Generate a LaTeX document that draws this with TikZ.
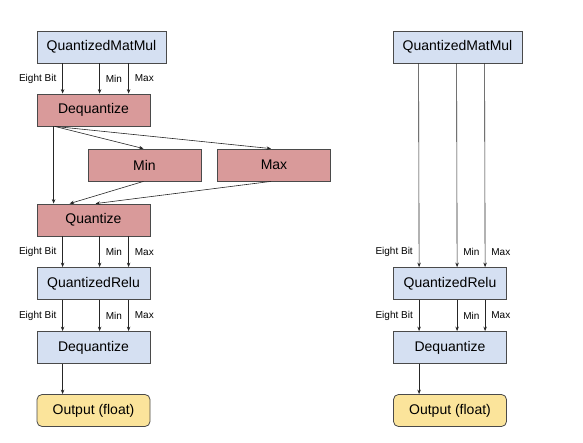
\documentclass[tikz,border=0pt]{standalone}
\usepackage{fontspec}
\setmainfont{Liberation Sans}
\usetikzlibrary{arrows.meta}
\definecolor{opblue}{HTML}{D5E0F2}
\definecolor{opred}{HTML}{D99A9A}
\definecolor{opyellow}{HTML}{FBE49B}
\definecolor{boxline}{HTML}{4A4A4A}
\begin{document}
\begin{tikzpicture}[
    x=1pt, y=-1pt,
    box/.style={draw=boxline, line width=0.8pt, minimum width=113pt, minimum height=32pt,
      inner sep=0pt, font=\fontsize{14}{16}\selectfont},
    qbox/.style={box, fill=opblue},
    fbox/.style={box, fill=opred},
    outbox/.style={box, fill=opyellow, rounded corners=5pt},
    arr/.style={draw=black!85, line width=0.6pt, -{Stealth[length=4.5pt,width=3.5pt]}},
    lbl/.style={font=\fontsize{10}{12}\selectfont, inner xsep=6pt, inner ysep=0pt}
  ]
  \useasboundingbox (0,0) rectangle (583,443);

  % left: with requantization
  \node[qbox, minimum width=129pt] (mmA) at (101.5,47) {QuantizedMatMul};
  \node[fbox] (dqA) at (93.5,110) {Dequantize};
  \node[fbox] (minA) at (144.5,165) {Min};
  \node[fbox] (maxA) at (274,165) {Max};
  \node[fbox] (qzA) at (93.5,220) {Quantize};
  \node[qbox] (reluA) at (93.5,283.5) {QuantizedRelu};
  \node[qbox] (dqB) at (93.5,347.5) {Dequantize};
  \node[outbox] (outA) at (93.5,410.5) {Output (float)};

  \draw[arr] ([xshift=26pt]mmA.south west) -- node[lbl,midway,left] {Eight Bit} ([xshift=26pt]dqA.north west);
  \draw[arr] ([xshift=63pt]mmA.south west) -- node[lbl,midway,right] {Min} ([xshift=63pt]dqA.north west);
  \draw[arr] ([xshift=92pt]mmA.south west) -- node[lbl,midway,right] {Max} ([xshift=92pt]dqA.north west);

  \draw[arr] ([xshift=17pt]dqA.south west) -- ([xshift=17pt]qzA.north west);
  \draw[arr] ([xshift=18pt]dqA.south west) -- ([xshift=-1pt]minA.north);
  \draw[arr] ([xshift=18pt]dqA.south west) -- ([xshift=-3pt]maxA.north);
  \draw[arr] ([xshift=-1pt]minA.south) -- ([xshift=33pt]qzA.north west);
  \draw[arr] ([xshift=-3pt]maxA.south) -- ([xshift=59pt]qzA.north west);

  \draw[arr] ([xshift=26pt]qzA.south west) -- node[lbl,midway,left] {Eight Bit} ([xshift=26pt]reluA.north west);
  \draw[arr] ([xshift=63pt]qzA.south west) -- node[lbl,midway,right] {Min} ([xshift=63pt]reluA.north west);
  \draw[arr] ([xshift=92pt]qzA.south west) -- node[lbl,midway,right] {Max} ([xshift=92pt]reluA.north west);

  \draw[arr] ([xshift=26pt]reluA.south west) -- node[lbl,midway,left] {Eight Bit} ([xshift=26pt]dqB.north west);
  \draw[arr] ([xshift=63pt]reluA.south west) -- node[lbl,midway,right] {Min} ([xshift=63pt]dqB.north west);
  \draw[arr] ([xshift=92pt]reluA.south west) -- node[lbl,midway,right] {Max} ([xshift=92pt]dqB.north west);

  \draw[arr] ([xshift=26pt]dqB.south west) -- ([xshift=26pt]outA.north west);

  % right: passed straight through
  \node[qbox, minimum width=129pt] (mmB) at (457.5,47) {QuantizedMatMul};
  \node[qbox] (reluB) at (450,283.5) {QuantizedRelu};
  \node[qbox] (dqC) at (450,347.5) {Dequantize};
  \node[outbox] (outB) at (450,410.5) {Output (float)};

  \draw[arr] ([xshift=26pt]mmB.south west) -- node[lbl,pos=0.925,left] {Eight Bit} ([xshift=26pt]reluB.north west);
  \draw[arr] ([xshift=64pt]mmB.south west) -- node[lbl,pos=0.925,right] {Min} ([xshift=64pt]reluB.north west);
  \draw[arr] ([xshift=92pt]mmB.south west) -- node[lbl,pos=0.925,right] {Max} ([xshift=92pt]reluB.north west);

  \draw[arr] ([xshift=26pt]reluB.south west) -- node[lbl,midway,left] {Eight Bit} ([xshift=26pt]dqC.north west);
  \draw[arr] ([xshift=64pt]reluB.south west) -- node[lbl,midway,right] {Min} ([xshift=64pt]dqC.north west);
  \draw[arr] ([xshift=92pt]reluB.south west) -- node[lbl,midway,right] {Max} ([xshift=92pt]dqC.north west);

  \draw[arr] ([xshift=26pt]dqC.south west) -- ([xshift=26pt]outB.north west);
\end{tikzpicture}
\end{document}
